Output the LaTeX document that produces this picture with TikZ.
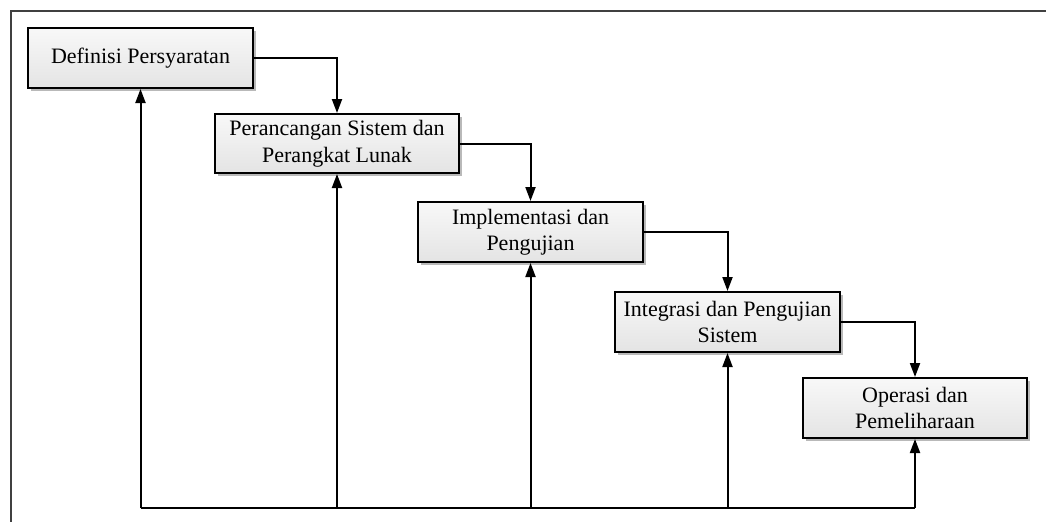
\documentclass[tikz,border=0pt]{standalone}
\usepackage{fontspec}
\setmainfont{Liberation Serif}
\usetikzlibrary{arrows.meta,shadows}
\definecolor{frameclr}{HTML}{404040}
\definecolor{boxtop}{HTML}{F8F8F8}
\definecolor{boxbot}{HTML}{E4E4E4}
\tikzset{
  stagebox/.style={draw=black, line width=2pt, top color=boxtop, bottom color=boxbot,
    drop shadow={shadow xshift=3pt, shadow yshift=-3pt, fill=gray!55, opacity=1},
    align=center, inner sep=0pt, font=\fontsize{22}{26.5}\selectfont},
  flow/.style={draw=black, line width=2pt, -{Triangle[length=14pt,width=10pt]}},
  plain/.style={draw=black, line width=2pt}
}
\begin{document}
\begin{tikzpicture}[x=1pt,y=-1pt]
\useasboundingbox (0,0) rectangle (1046,522);
\fill[white] (0,0) rectangle (1046,522);
\draw[frameclr, line width=2pt] (1046,10.5) -- (10.5,10.5) -- (10.5,522);

\node[stagebox, minimum width=225pt, minimum height=60pt] (s1) at (140.5,58) {Definisi Persyaratan};
\node[stagebox, minimum width=244pt, minimum height=59pt] (s2) at (337,143.5) {Perancangan Sistem dan\\Perangkat Lunak};
\node[stagebox, minimum width=225pt, minimum height=60pt] (s3) at (530.5,232) {Implementasi dan\\Pengujian};
\node[stagebox, minimum width=225pt, minimum height=60pt] (s4) at (727.5,322) {Integrasi dan Pengujian\\Sistem};
\node[stagebox, minimum width=224pt, minimum height=60pt] (s5) at (915,408) {Operasi dan\\Pemeliharaan};

\coordinate (base) at (0,508);

% forward flow
\draw[flow] (s1.east) -| (s2.north);
\draw[flow] (s2.east) -| (s3.north);
\draw[flow] (s3.east) -| (s4.north);
\draw[flow] (s4.east) -| (s5.north);

% feedback
\draw[plain] (s1.south |- base) -- (s5.south |- base);
\draw[flow] (s1.south |- base) -- (s1.south);
\draw[flow] (s2.south |- base) -- (s2.south);
\draw[flow] (s3.south |- base) -- (s3.south);
\draw[flow] (s4.south |- base) -- (s4.south);
\draw[flow] (s5.south |- base) -- (s5.south);
\end{tikzpicture}
\end{document}
